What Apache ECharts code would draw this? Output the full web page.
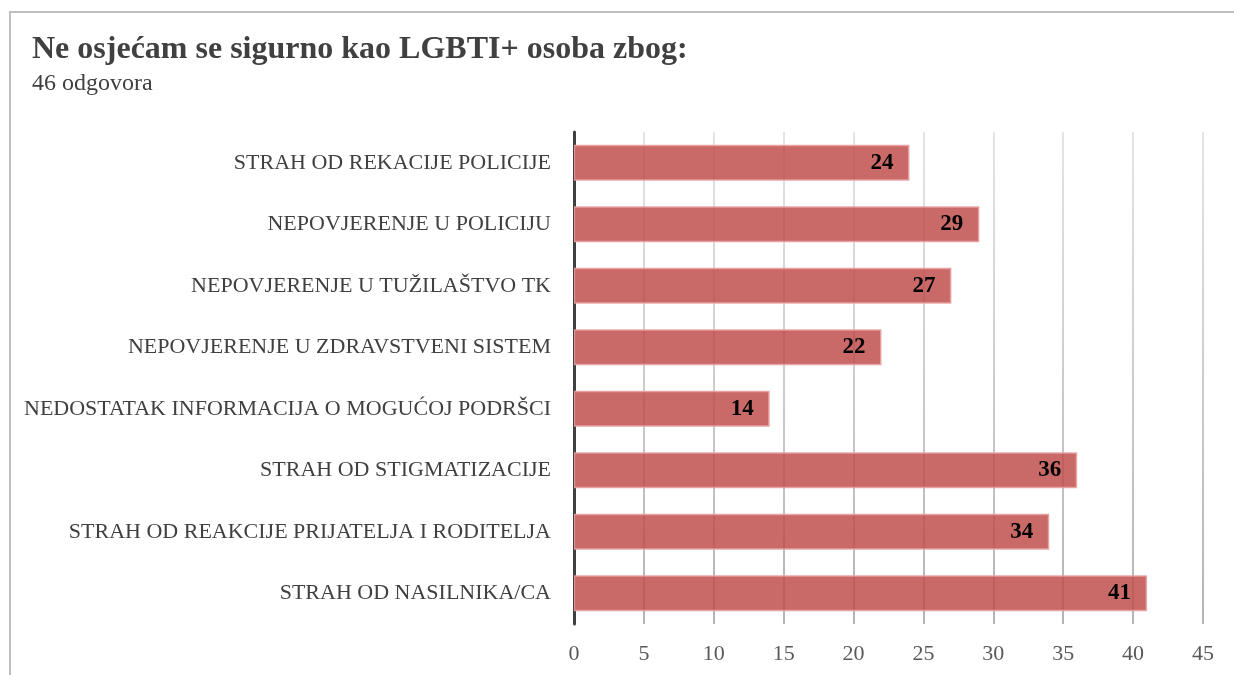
<!DOCTYPE html>
<html>
<head>
<meta charset="utf-8">
<script src="https://cdn.jsdelivr.net/npm/echarts@6/dist/echarts.min.js"></script>
<style>
  html, body { margin: 0; padding: 0; background: #fff; }
  #chart { width: 1234px; height: 675px; }
</style>
</head>
<body>
<div id="chart"></div>
<script>
let categories = [
  "STRAH OD REKACIJE POLICIJE",
  "NEPOVJERENJE U POLICIJU",
  "NEPOVJERENJE U TUŽILAŠTVO TK",
  "NEPOVJERENJE U ZDRAVSTVENI SISTEM",
  "NEDOSTATAK INFORMACIJA O MOGUĆOJ PODRŠCI",
  "STRAH OD STIGMATIZACIJE",
  "STRAH OD REAKCIJE PRIJATELJA I RODITELJA",
  "STRAH OD NASILNIKA/CA"
];
let values = [24, 29, 27, 22, 14, 36, 34, 41];
let xMin = 0, xMax = 45, xStep = 5;

let serif = "'Liberation Serif', 'DejaVu Serif', serif";

let chart = echarts.init(document.getElementById("chart"));

chart.setOption({
  animation: false,
  title: [
    {
      text: "Ne osjećam se sigurno kao LGBTI+ osoba zbog:",
      left: 32,
      top: 34,
      padding: 0,
      textStyle: { fontFamily: serif, fontSize: 32, fontWeight: "bold", color: "#404040" }
    },
    {
      text: "46 odgovora",
      left: 32,
      top: 72,
      padding: 0,
      textStyle: { fontFamily: serif, fontSize: 24, fontWeight: "normal", color: "#404040" }
    }
  ],
  grid: { left: 574, right: 31, top: 132, bottom: 51 },
  xAxis: {
    type: "value",
    min: xMin,
    max: xMax,
    interval: xStep,
    axisLine: { show: false },
    axisTick: { show: false },
    axisLabel: { fontFamily: serif, fontSize: 22, color: "#595959", margin: 19 },
    splitLine: {
      show: true,
      lineStyle: {
        width: 1.5,
        color: new echarts.graphic.LinearGradient(0, 0, 0, 1, [
          { offset: 0, color: "#dcdcdc" },
          { offset: 1, color: "#9a9a9a" }
        ])
      }
    }
  },
  yAxis: {
    type: "category",
    data: categories,
    inverse: true,
    axisLine: { show: true, lineStyle: { color: "#404040", width: 3 } },
    axisTick: { show: false },
    axisLabel: { fontFamily: serif, fontSize: 22, color: "#404040", margin: 23 }
  },
  series: [{
    type: "bar",
    data: values,
    barWidth: 36,
    itemStyle: {
      color: "rgba(192,80,77,0.85)",
      borderColor: "rgba(232,160,160,0.9)",
      borderWidth: 1.5
    },
    label: {
      show: true,
      position: "insideRight",
      distance: 16,
      fontFamily: serif,
      fontSize: 23,
      fontWeight: "bold",
      color: "#000"
    }
  }],
  graphic: [
    { type: "line", shape: { x1: 9, y1: 12, x2: 1234, y2: 12 }, style: { stroke: "#bfbfbf", lineWidth: 2 } },
    { type: "line", shape: { x1: 10, y1: 12, x2: 10, y2: 675 }, style: { stroke: "#bfbfbf", lineWidth: 2 } }
  ]
});
</script>
</body>
</html>
